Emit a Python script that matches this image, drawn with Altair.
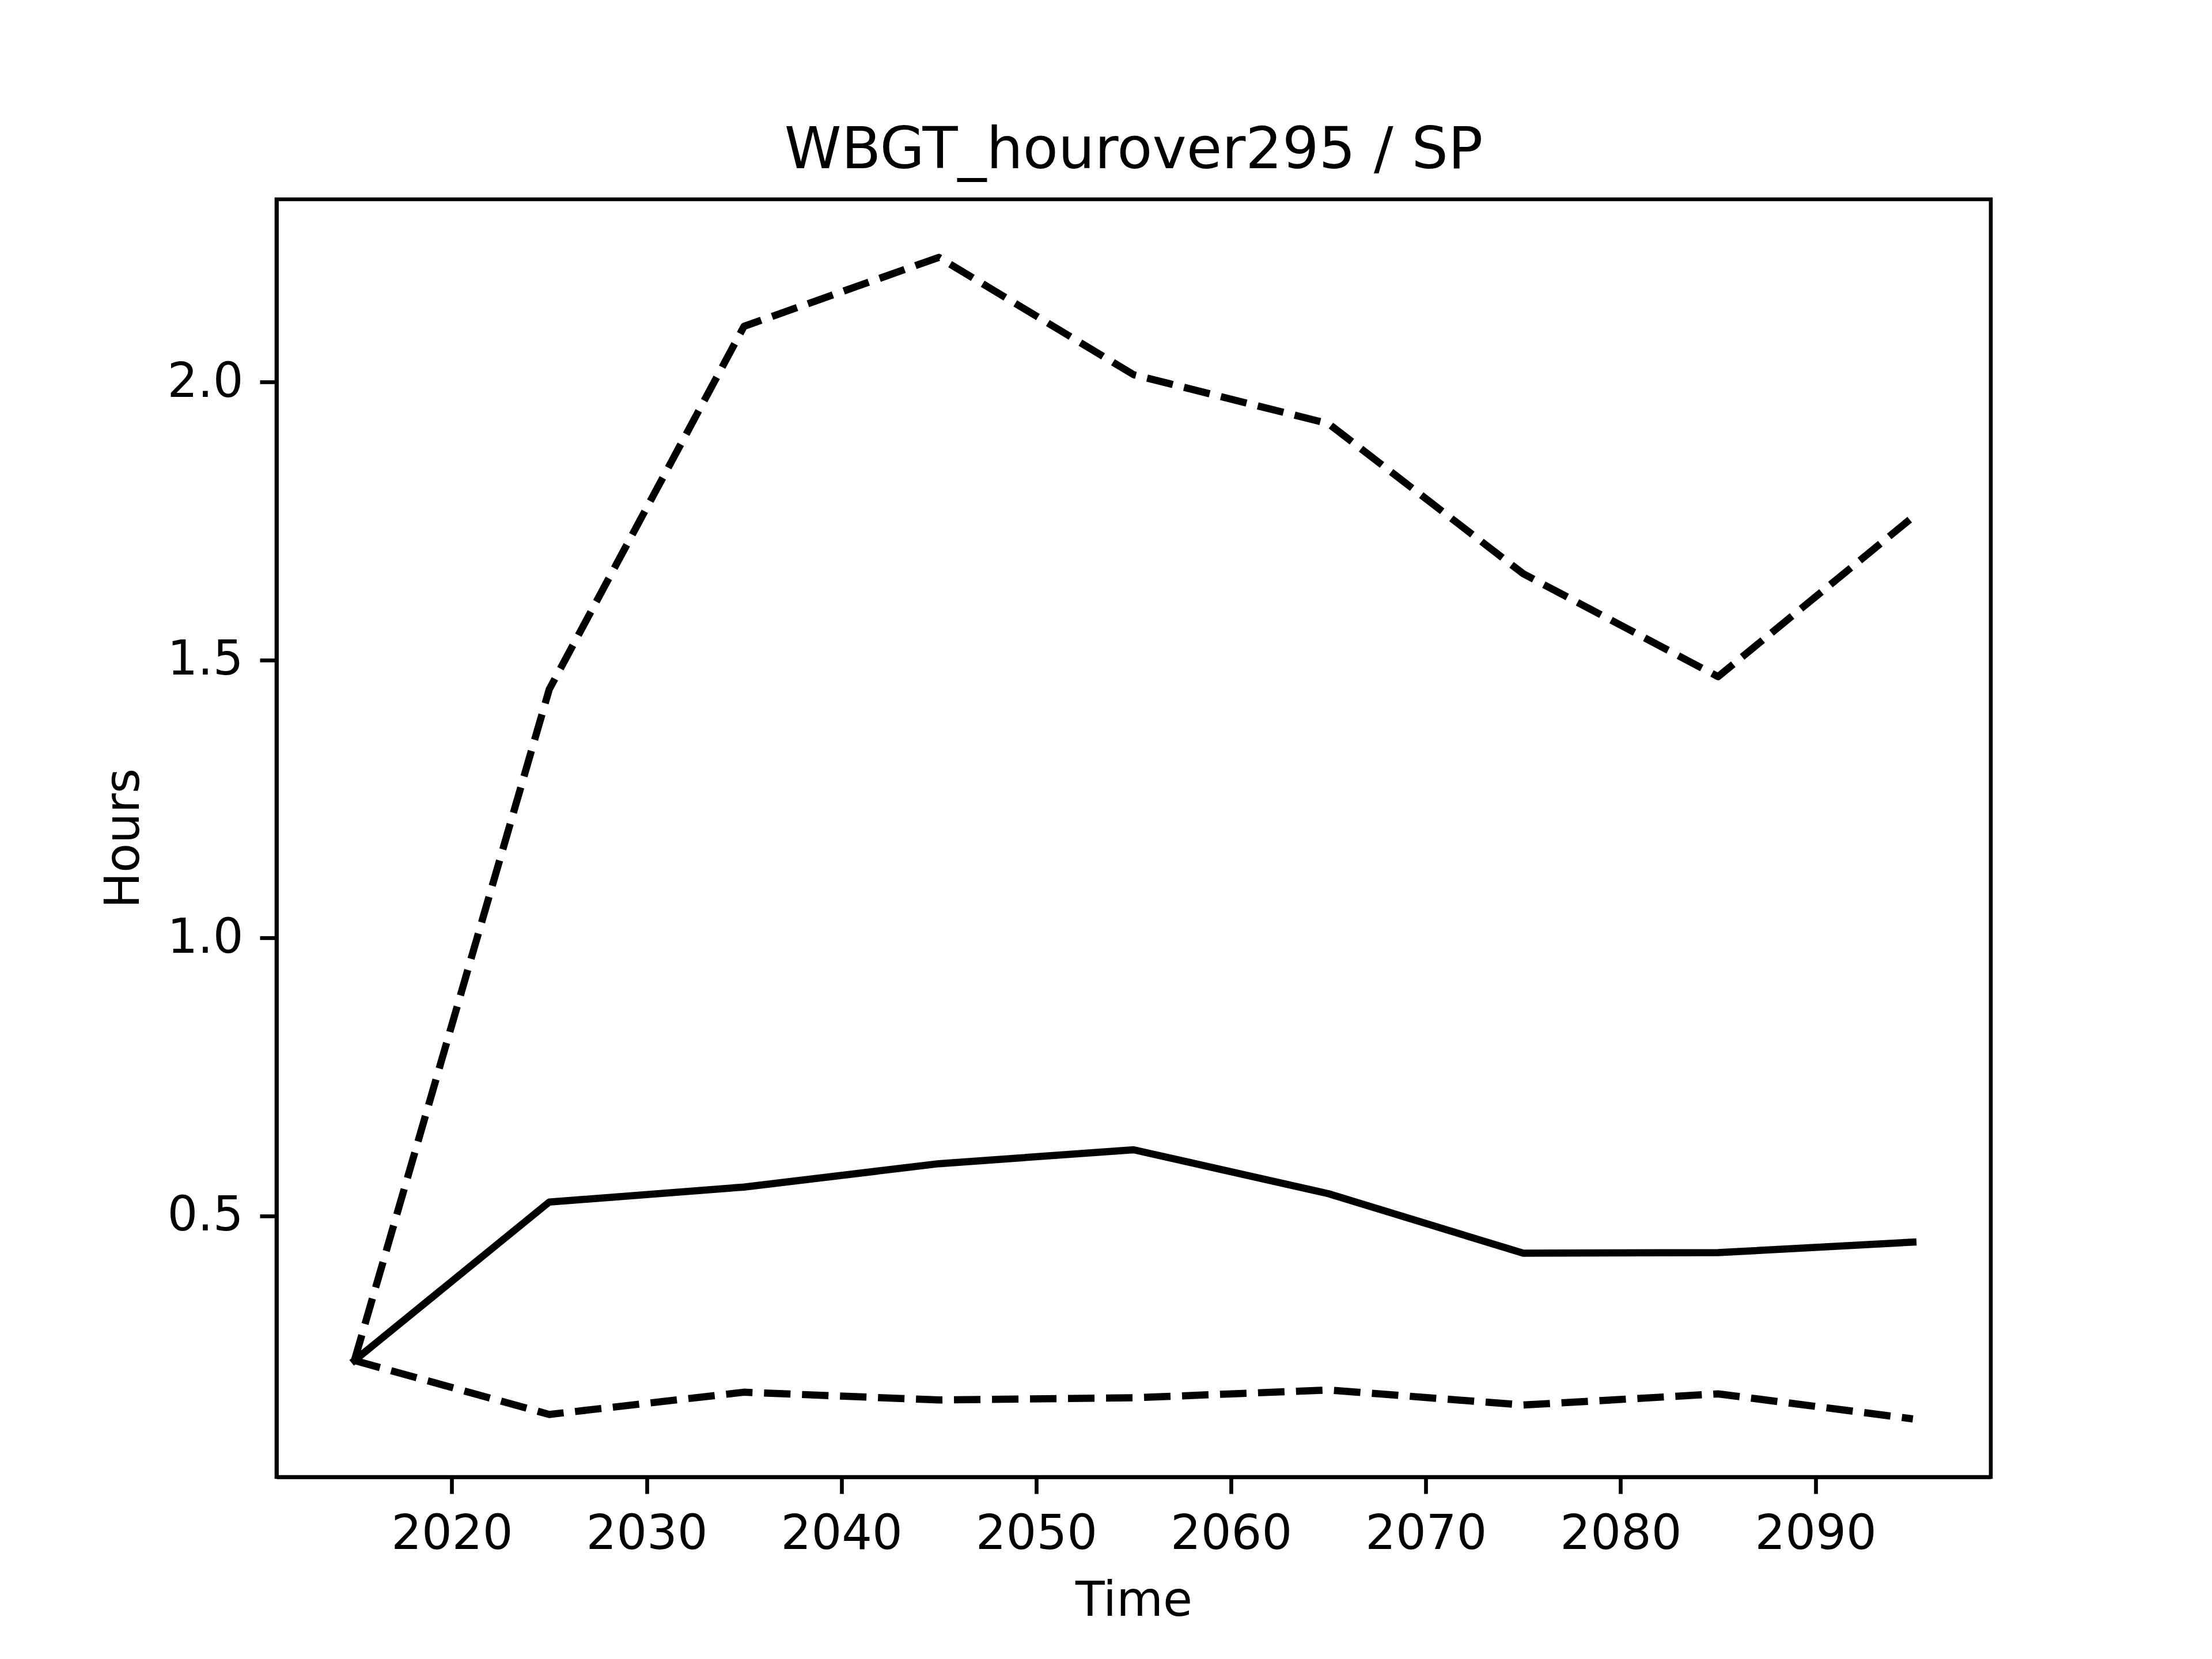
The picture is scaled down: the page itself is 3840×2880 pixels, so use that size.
import altair as alt
import pandas as pd

years = [2015, 2025, 2035, 2045, 2055, 2065, 2075, 2085, 2095]
median = [0.240, 0.525, 0.552, 0.594, 0.619, 0.540, 0.433, 0.434, 0.453]
upper = [0.240, 1.447, 2.100, 2.224, 2.013, 1.925, 1.655, 1.470, 1.757]
lower = [0.240, 0.143, 0.183, 0.169, 0.173, 0.187, 0.160, 0.180, 0.135]

x_ticks = [2020, 2030, 2040, 2050, 2060, 2070, 2080, 2090]
y_ticks = [0.5, 1.0, 1.5, 2.0]

rows = []
for name, vals in (("median", median), ("upper", upper), ("lower", lower)):
    for yr, v in zip(years, vals):
        rows.append({"Time": yr, "Hours": v, "series": name})
df = pd.DataFrame(rows)

ymin = min(lower + median + upper)
ymax = max(lower + median + upper)
ym = (ymax - ymin) * 0.05
xm = (years[-1] - years[0]) * 0.05

LW = 12.5
AX = 6.67
FONT = "DejaVu Sans"

x_enc = alt.X(
    "Time:Q",
    scale=alt.Scale(domain=[years[0] - xm, years[-1] + xm], nice=False, zero=False),
    axis=alt.Axis(values=x_ticks, format="d", title="Time"),
)
y_enc = alt.Y(
    "Hours:Q",
    scale=alt.Scale(domain=[ymin - ym, ymax + ym], nice=False, zero=False),
    axis=alt.Axis(values=y_ticks, format=".1f", title="Hours"),
)

base = alt.Chart(df)

solid = base.transform_filter(alt.datum.series == "median").mark_line(
    color="black", strokeWidth=LW, strokeCap="square", strokeJoin="round"
).encode(x=x_enc, y=y_enc)

dashed = base.transform_filter(alt.datum.series != "median").mark_line(
    color="black", strokeWidth=LW, strokeDash=[46, 20], strokeCap="butt", strokeJoin="round"
).encode(x=x_enc, y=y_enc, detail="series:N")

chart = (
    alt.layer(dashed, solid)
    .properties(
        width=2976,
        height=2218,
        background="white",
        title=alt.TitleParams(
            "WBGT_hourover295 / SP",
            font=FONT,
            fontSize=100,
            fontWeight="normal",
            color="black",
            anchor="middle",
            frame="group",
            baseline="alphabetic",
            offset=-46,
        ),
        autosize=alt.AutoSizeParams(type="none"),
        padding={"left": 472, "top": 338, "right": 376, "bottom": 310},
    )
    .configure_view(stroke="black", strokeWidth=AX)
    .configure_axis(
        grid=False,
        domainColor="black",
        domainWidth=AX,
        tickColor="black",
        tickWidth=AX,
        tickSize=29,
        labelFont=FONT,
        labelFontSize=83,
        labelColor="black",
        labelPadding=29,
        labelLimit=0,
        labelOverlap=False,
        labelFlush=False,
        titleFont=FONT,
        titleFontSize=83,
        titleFontWeight="normal",
        titleColor="black",
        titlePadding=33,
    )
)

chart.save("out.html", embed_options={"renderer": "svg", "actions": False})
